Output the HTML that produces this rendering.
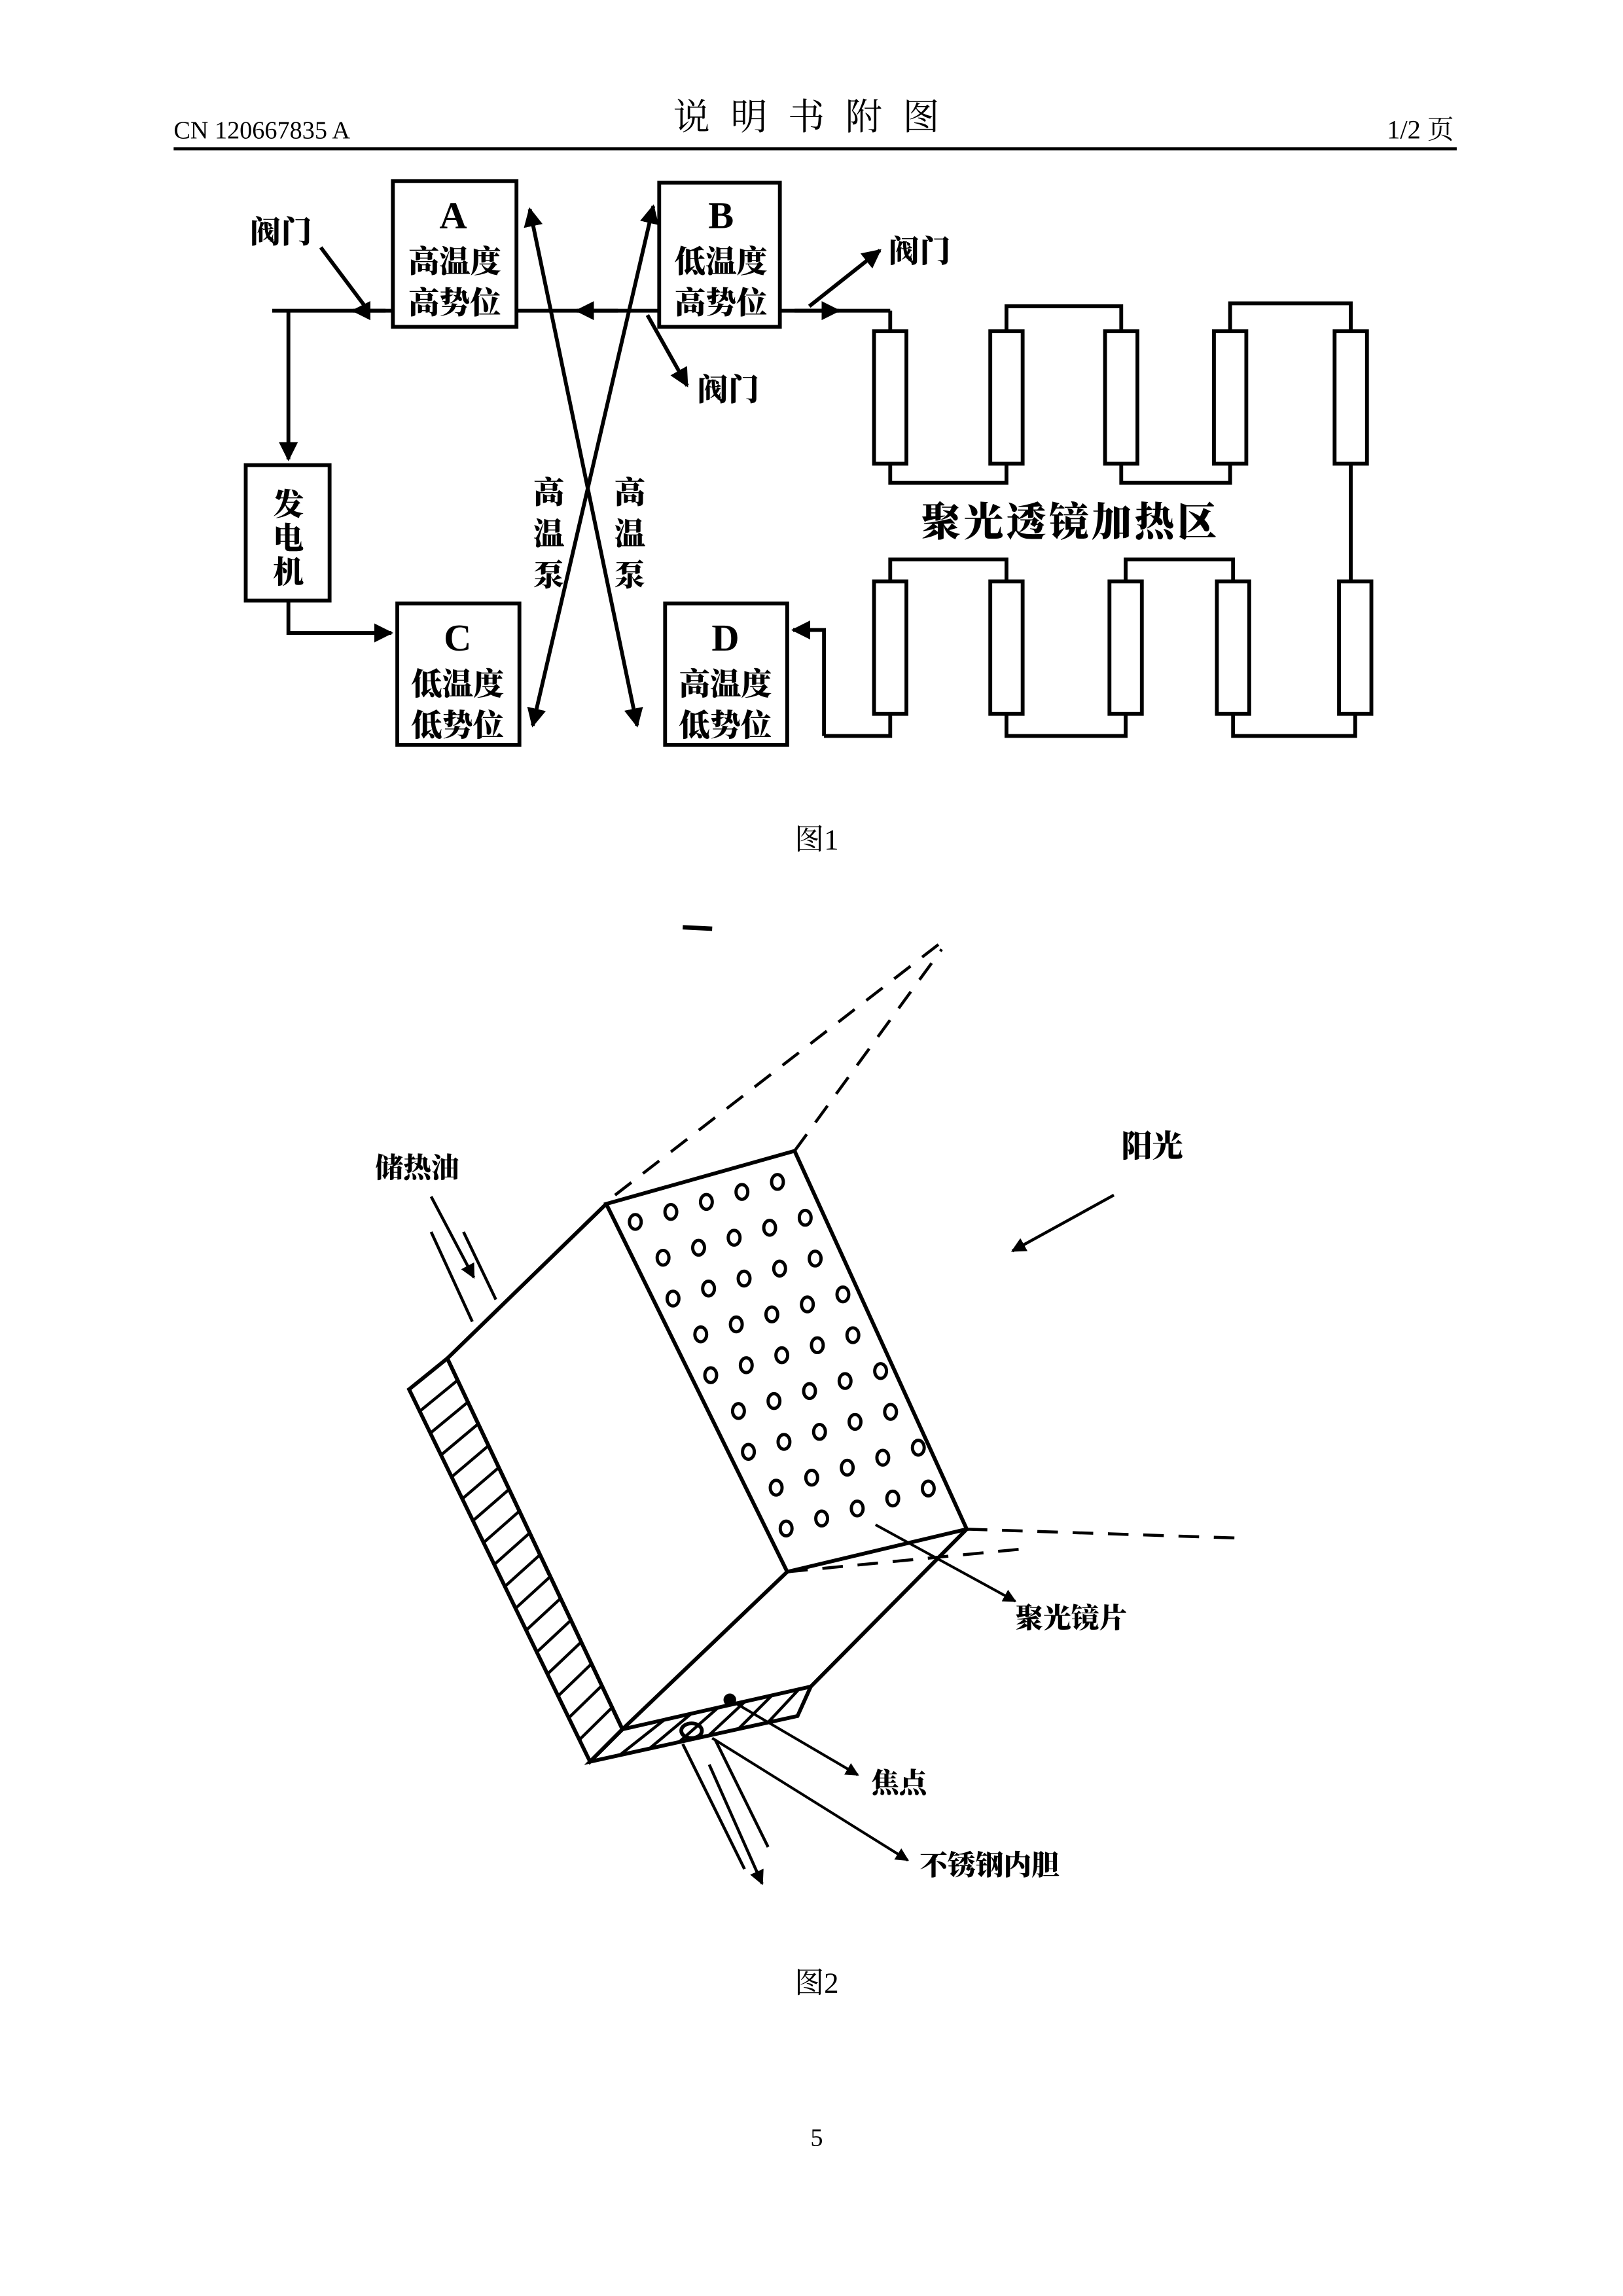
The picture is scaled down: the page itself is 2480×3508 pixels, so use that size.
<!DOCTYPE html>
<html><head><meta charset="utf-8"><style>
html,body{margin:0;padding:0;background:#fff}
svg{display:block}
text{font-family:"Liberation Serif","Noto Serif CJK SC",serif}
.h{font-family:"Liberation Sans","Noto Sans CJK SC",sans-serif;font-weight:900}
</style></head><body>
<svg id="s" width="2480" height="3508" viewBox="0 0 1103 1560" xmlns="http://www.w3.org/2000/svg">
<defs>
<marker id="a" viewBox="0 0 10 10" refX="9" refY="5" markerWidth="5" markerHeight="5" orient="auto-start-reverse"><path d="M0,0L10,5L0,10z" fill="#000"/></marker>
</defs>
<rect width="1103" height="1560" fill="#fff"/>
<!-- header -->
<text x="118" y="94" font-size="17">CN 120667835 A</text>
<text x="555" y="88" font-size="25" text-anchor="middle" letter-spacing="14">说明书附图</text>
<text x="988" y="94" font-size="18" text-anchor="end">1/2 页</text>
<line x1="118" y1="101" x2="990" y2="101" stroke="#000" stroke-width="2"/>

<g stroke="#000" stroke-width="2.6" fill="none">
<!-- boxes -->
<rect x="267" y="123" width="84" height="99"/>
<rect x="448" y="124" width="82" height="98"/>
<rect x="270" y="410" width="83" height="96"/>
<rect x="452" y="410" width="83" height="96"/>
<rect x="167" y="316" width="57" height="92"/>
<!-- main line -->
<line x1="185" y1="211" x2="267" y2="211"/>
<line x1="351" y1="211" x2="448" y2="211"/>
<line x1="530" y1="211" x2="605" y2="211"/>
<line x1="196" y1="211" x2="196" y2="312" marker-end="url(#a)"/>
<polyline points="196,408 196,430 266,430" marker-end="url(#a)"/>
<line x1="262" y1="211" x2="240" y2="211" marker-end="url(#a)"/>
<line x1="420" y1="211" x2="392" y2="211" marker-end="url(#a)"/>
<line x1="540" y1="211" x2="570" y2="211" marker-end="url(#a)"/>
<line x1="248" y1="208" x2="218" y2="168"/>
<line x1="550" y1="208" x2="598" y2="170" marker-end="url(#a)"/>
<line x1="440" y1="214" x2="467" y2="262" marker-end="url(#a)"/>
<!-- cross -->
<line x1="433" y1="493" x2="360" y2="142" marker-start="url(#a)" marker-end="url(#a)"/>
<line x1="362" y1="493" x2="444" y2="140" marker-start="url(#a)" marker-end="url(#a)"/>
<polyline points="560,500 560,428 539,428" marker-end="url(#a)"/>
<!-- tubes top -->
<rect x="594" y="225" width="22" height="90"/>
<rect x="673" y="225" width="22" height="90"/>
<rect x="751" y="225" width="22" height="90"/>
<rect x="825" y="225" width="22" height="90"/>
<rect x="907" y="225" width="22" height="90"/>
<!-- tubes bottom -->
<rect x="594" y="395" width="22" height="90"/>
<rect x="673" y="395" width="22" height="90"/>
<rect x="754" y="395" width="22" height="90"/>
<rect x="827" y="395" width="22" height="90"/>
<rect x="910" y="395" width="22" height="90"/>
<!-- connections -->
<polyline points="605,211 605,225"/>
<polyline points="684,225 684,208 762,208 762,225"/>
<polyline points="836,225 836,206 918,206 918,225"/>
<polyline points="605,315 605,328 684,328 684,315"/>
<polyline points="762,315 762,328 836,328 836,315"/>
<polyline points="918,315 918,395"/>
<polyline points="605,395 605,380 684,380 684,395"/>
<polyline points="765,395 765,380 838,380 838,395"/>
<polyline points="684,485 684,500 765,500 765,485"/>
<polyline points="838,485 838,500 921,500 921,485"/>
<polyline points="605,485 605,500 560,500"/>
</g>
<g class="h" font-size="21">
<text x="308" y="155" text-anchor="middle" font-size="26">A</text>
<text x="309" y="185" text-anchor="middle">高温度</text>
<text x="309" y="213" text-anchor="middle">高势位</text>
<text x="490" y="155" text-anchor="middle" font-size="26">B</text>
<text x="490" y="185" text-anchor="middle">低温度</text>
<text x="490" y="213" text-anchor="middle">高势位</text>
<text x="311" y="442" text-anchor="middle" font-size="26">C</text>
<text x="311" y="472" text-anchor="middle">低温度</text>
<text x="311" y="500" text-anchor="middle">低势位</text>
<text x="493" y="442" text-anchor="middle" font-size="26">D</text>
<text x="493" y="472" text-anchor="middle">高温度</text>
<text x="493" y="500" text-anchor="middle">低势位</text>
<text x="196" y="350" text-anchor="middle">发</text>
<text x="196" y="373" text-anchor="middle">电</text>
<text x="196" y="396" text-anchor="middle">机</text>
<text x="170" y="165">阀门</text>
<text x="604" y="178">阀门</text>
<text x="474" y="272">阀门</text>
<text x="373" y="342" text-anchor="middle">高</text>
<text x="373" y="370" text-anchor="middle">温</text>
<text x="373" y="398" text-anchor="middle">泵</text>
<text x="428" y="342" text-anchor="middle">高</text>
<text x="428" y="370" text-anchor="middle">温</text>
<text x="428" y="398" text-anchor="middle">泵</text>
<text x="626" y="364" font-size="27" letter-spacing="2">聚光透镜加热区</text>
<text x="255" y="800" font-size="19">储热油</text>
<text x="762" y="786" font-size="21">阳光</text>
<text x="690" y="1106" font-size="19">聚光镜片</text>
<text x="592" y="1218" font-size="19">焦点</text>
<text x="625" y="1274" font-size="19">不锈钢内胆</text>
</g>
<text x="555" y="577" font-size="20" text-anchor="middle">图1</text>
<text x="555" y="1354" font-size="20" text-anchor="middle">图2</text>
<text x="555" y="1458" font-size="17" text-anchor="middle">5</text>
<line x1="464" y1="630" x2="484" y2="631" stroke="#000" stroke-width="3"/>

<!-- fig2 -->
<g stroke="#000" stroke-width="2.6" fill="none" id="f2">
<polygon points="412,818 540,782 657,1039 535,1068"/>
<polyline points="412,818 304,923 423,1175 535,1068"/>
<polygon points="278,944 304,923 423,1175 401,1197"/>
<polygon points="401,1197 423,1175 551,1146 542,1166"/>
<line x1="657" y1="1039" x2="551" y2="1146"/>
<line x1="293" y1="837" x2="321" y2="898" stroke-width="2"/>
<line x1="315" y1="837" x2="337" y2="883" stroke-width="2"/>
<line x1="293" y1="813" x2="322" y2="868" stroke-width="2" marker-end="url(#a)"/>
<line x1="464" y1="1185" x2="506" y2="1270" stroke-width="2"/>
<line x1="486" y1="1182" x2="522" y2="1255" stroke-width="2"/>
<line x1="482" y1="1199" x2="518" y2="1280" stroke-width="2" marker-end="url(#a)"/>
<line x1="757" y1="812" x2="688" y2="850" stroke-width="2" marker-end="url(#a)"/>
<g stroke-dasharray="14,10" stroke-width="2">
<line x1="418" y1="812" x2="640" y2="640"/>
<line x1="540" y1="782" x2="640" y2="645"/>
<line x1="657" y1="1039" x2="840" y2="1045"/>
<line x1="535" y1="1068" x2="700" y2="1052"/>
</g>
<g stroke-width="1.8">
<line x1="496" y1="1155" x2="583" y2="1206" marker-end="url(#a)"/>
<line x1="484" y1="1181" x2="617" y2="1264" marker-end="url(#a)"/>
<line x1="595" y1="1036" x2="690" y2="1088" marker-end="url(#a)"/>
</g>
<circle cx="496" cy="1155" r="3" fill="#000"/>
<ellipse cx="470" cy="1176" rx="7" ry="5"/>
</g>
</svg>
<script>
var g=document.getElementById('f2'),ns='http://www.w3.org/2000/svg';
function P(x,y){var u=x,v=y;return [412+u*(540-412)+v*(535-412),818+u*(782-818)+v*(1068-818)];}
for(var r=0;r<9;r++)for(var c=0;c<5;c++){var p=P((c+0.5+(r%2?0.25:0))/5.3,(r+0.6)/9.6);
var e=document.createElementNS(ns,'ellipse');e.setAttribute('cx',p[0]);e.setAttribute('cy',p[1]);e.setAttribute('rx',4);e.setAttribute('ry',5);e.setAttribute('stroke-width',2.2);g.appendChild(e);}
for(var i=1;i<17;i++){var t=i/17;var l=document.createElementNS(ns,'line');
l.setAttribute('x1',278+t*(401-278));l.setAttribute('y1',944+t*(1197-944));l.setAttribute('x2',304+t*(423-304));l.setAttribute('y2',923+t*(1175-923));l.setAttribute('stroke-width',2);g.appendChild(l);}
for(var i=1;i<7;i++){var t=i/7;var l=document.createElementNS(ns,'line');
l.setAttribute('x1',401+t*(542-401));l.setAttribute('y1',1197+t*(1166-1197));l.setAttribute('x2',423+(t+0.08)*(551-423));l.setAttribute('y2',1175+(t+0.08)*(1146-1175));l.setAttribute('stroke-width',2);g.appendChild(l);}
</script>
</body></html>
